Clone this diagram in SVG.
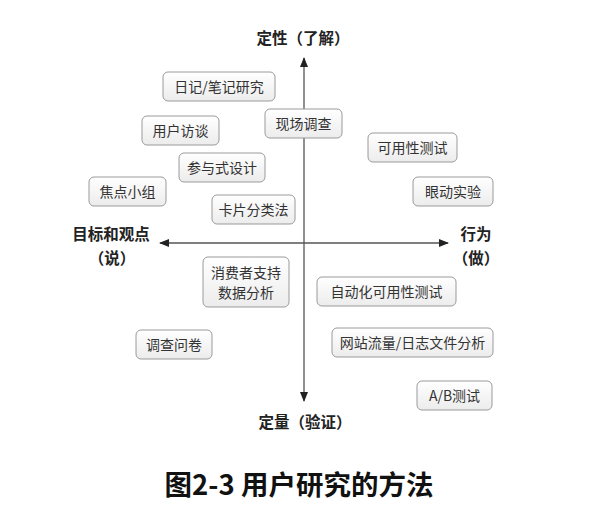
<svg xmlns="http://www.w3.org/2000/svg" width="614" height="516" viewBox="0 0 614 516">
<style>
.box{fill:url(#g);stroke:#9a9a9a;stroke-width:1}
.t{font-family:"Noto Sans CJK SC","Noto Sans",sans-serif;font-size:14px;fill:#333;text-anchor:middle}
.ax{font-family:"Noto Sans CJK SC","Noto Sans",sans-serif;font-size:15.5px;font-weight:bold;fill:#222;text-anchor:middle}
.axis{stroke:#555;stroke-width:1.3;fill:none}
</style>
<defs>
<linearGradient id="g" x1="0" y1="0" x2="0" y2="1">
<stop offset="0" stop-color="#ffffff"/>
<stop offset="1" stop-color="#ececec"/>
</linearGradient>
<marker id="ah" markerWidth="10" markerHeight="8" refX="9" refY="4" orient="auto-start-reverse" markerUnits="userSpaceOnUse">
<path d="M0,0 L10,4 L0,8 Z" fill="#222"/>
</marker>
</defs>
<rect width="614" height="516" fill="#fff"/>
<g id="connectors">
<line class="axis" x1="304" y1="401" x2="304" y2="58" marker-start="url(#ah)" marker-end="url(#ah)"/>
<line class="axis" x1="160" y1="243" x2="448" y2="243" marker-start="url(#ah)" marker-end="url(#ah)"/>
</g>
<g id="labels">
<text class="ax" x="303" y="44">定性（了解）</text>
<text class="ax" x="305" y="428">定量（验证）</text>
<text class="ax" x="111" y="240">目标和观点</text>
<text class="ax" x="112" y="264">（说）</text>
<text class="ax" x="476" y="240">行为</text>
<text class="ax" x="476" y="264">（做）</text>
</g>
<g id="n1"><rect class="box" x="163" y="72" width="112" height="29" rx="5"/><text class="t" x="219" y="91.5">日记/笔记研究</text></g>
<g id="n2"><rect class="box" x="142" y="116" width="77" height="29" rx="5"/><text class="t" x="180.5" y="135.5">用户访谈</text></g>
<g id="n3"><rect class="box" x="265" y="109" width="77" height="29" rx="5"/><text class="t" x="303.5" y="128.5">现场调查</text></g>
<g id="n4"><rect class="box" x="179" y="153" width="86" height="29" rx="5"/><text class="t" x="222" y="172.5">参与式设计</text></g>
<g id="n5"><rect class="box" x="89" y="177" width="77" height="29" rx="5"/><text class="t" x="127.5" y="196.5">焦点小组</text></g>
<g id="n6"><rect class="box" x="212" y="195" width="83" height="29" rx="5"/><text class="t" x="253.5" y="214.5">卡片分类法</text></g>
<g id="n7"><rect class="box" x="368" y="133" width="89" height="29" rx="5"/><text class="t" x="412.5" y="152.5">可用性测试</text></g>
<g id="n8"><rect class="box" x="413" y="177" width="80" height="29" rx="5"/><text class="t" x="453" y="196.5">眼动实验</text></g>
<g id="n9"><rect class="box" x="203" y="257" width="86" height="50" rx="5"/><text class="t" x="246" y="278">消费者支持</text><text class="t" x="246" y="298">数据分析</text></g>
<g id="n10"><rect class="box" x="136" y="330" width="76" height="29" rx="5"/><text class="t" x="174" y="349.5">调查问卷</text></g>
<g id="n11"><rect class="box" x="317" y="277" width="139" height="29" rx="5"/><text class="t" x="386.5" y="296.5">自动化可用性测试</text></g>
<g id="n12"><rect class="box" x="332" y="328" width="161" height="29" rx="5"/><text class="t" x="412.5" y="347.5">网站流量/日志文件分析</text></g>
<g id="n13"><rect class="box" x="417" y="381" width="75" height="29" rx="5"/><text class="t" x="454.5" y="400.5">A/B测试</text></g>
<text x="299" y="495" font-family="'Noto Sans CJK SC','Noto Sans',sans-serif" font-size="27.5" font-weight="bold" fill="#111" text-anchor="middle">图2-3 用户研究的方法</text>
</svg>
